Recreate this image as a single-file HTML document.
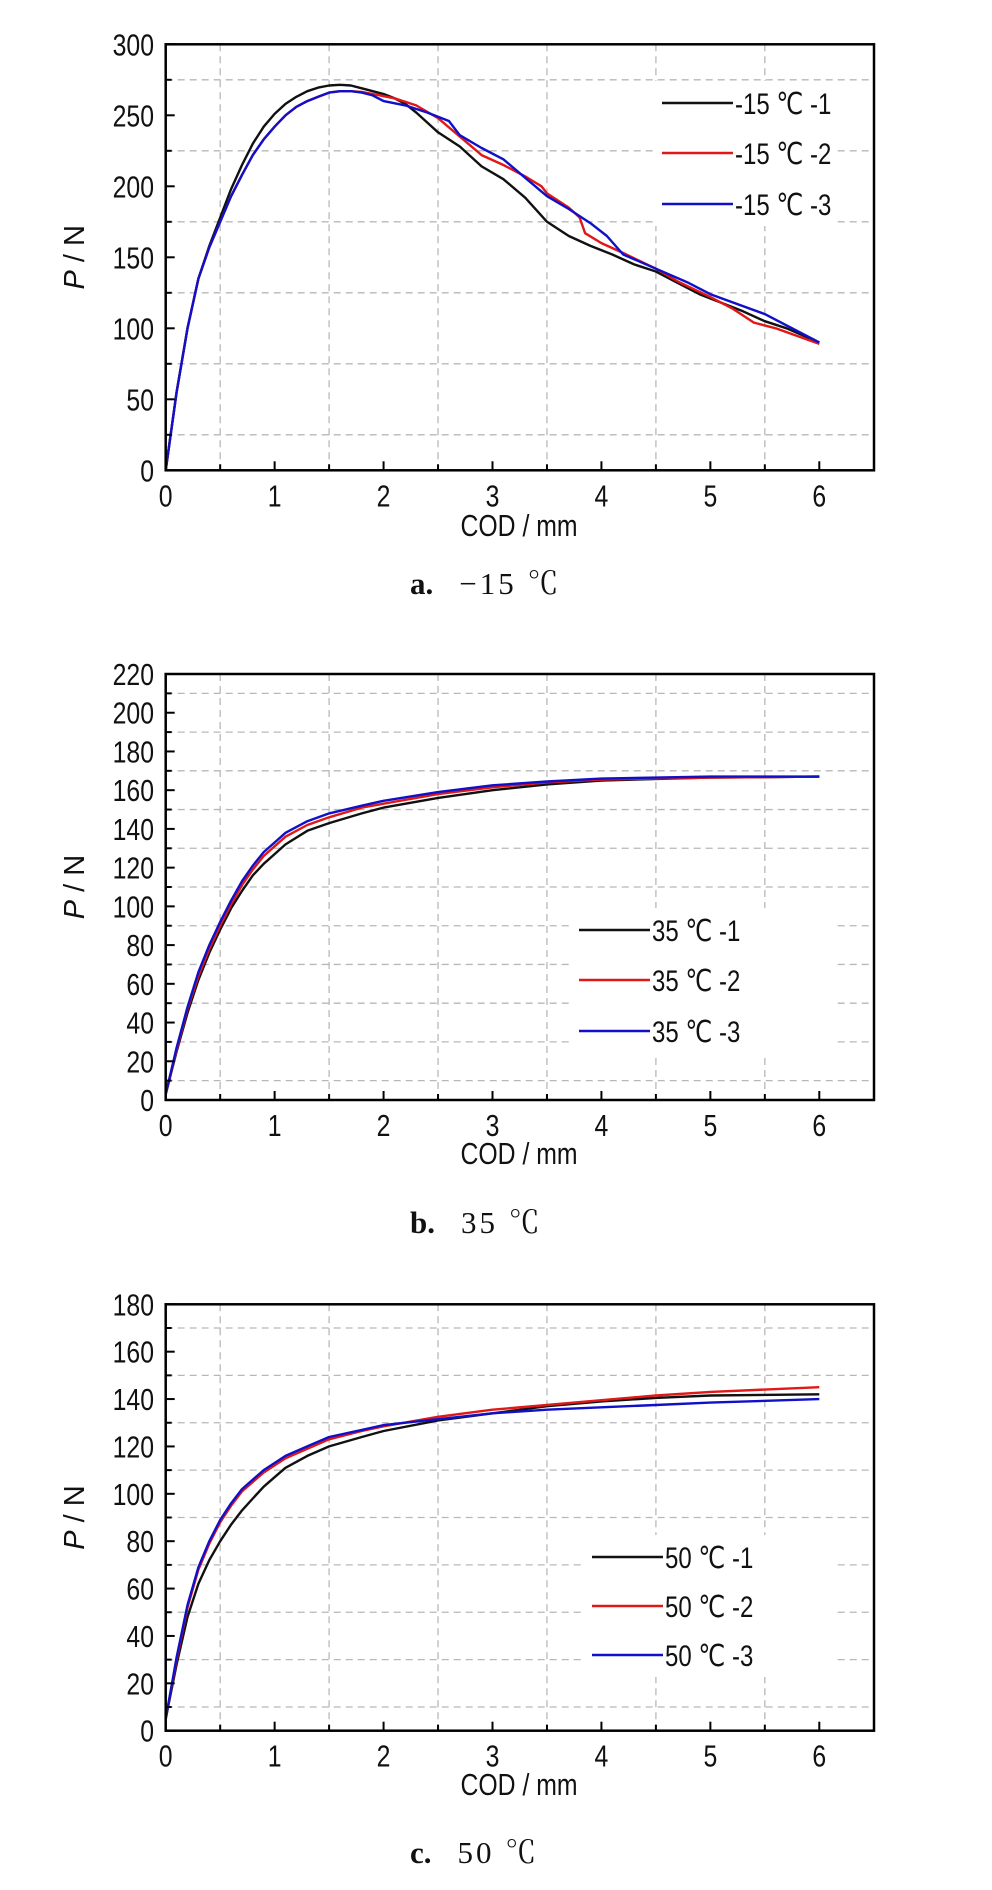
<!DOCTYPE html>
<html><head><meta charset="utf-8">
<style>
html,body{margin:0;padding:0;background:#fff;}
svg{display:block;}
text{font-family:"Liberation Sans",sans-serif;fill:#111;}
.cap{font-family:"Liberation Serif","Noto Serif CJK SC",serif;}
</style></head>
<body>
<svg id="fig" width="992" height="1890" viewBox="0 0 992 1890" xmlns="http://www.w3.org/2000/svg"></svg>
<script>
// ---- data ----
const xTicks = [0,1,2,3,4,5,6];
// Panel a (-15 C)
const aYTicks = [0,50,100,150,200,250,300];
const aLabels = ["-15  ℃ -1","-15  ℃ -2","-15  ℃ -3"];
const aX1 = [0,0.1,0.2,0.3,0.4,0.5,0.6,0.7,0.8,0.9,1.0,1.1,1.2,1.3,1.4,1.5,1.6,1.7,1.8,1.9,2.0,2.1,2.2,2.3,2.5,2.7,2.9,3.1,3.3,3.5,3.7,3.9,4.1,4.3,4.5,4.7,4.9,5.1,5.3,5.5,5.7,6];
const aY1 = [0,55,100,135,158,178,198,215,230,242,251,258,263,267,269.5,271,271.5,271,269,267,265,262,258,252,238,228,214,205,192,175,165,158,152,145,140,132,124,118,112,105,100,90];
const aX2 = [0,0.1,0.2,0.3,0.4,0.5,0.6,0.7,0.8,0.9,1.0,1.1,1.2,1.3,1.4,1.5,1.6,1.7,1.8,1.9,2.1,2.3,2.5,2.7,2.9,3.1,3.3,3.45,3.5,3.7,3.8,3.85,4.0,4.2,4.5,4.7,5,5.2,5.4,5.6,6];
const aY2 = [0,55,100,135,157,175,193,208,222,233,242,250,256,260,263,266,267,267,266.5,265,262,257,248,235,222,215,207,200,195,185,178,167,160,153,142,133,122,114,104,100,89];
const aX3 = [0,0.1,0.2,0.3,0.4,0.5,0.6,0.7,0.8,0.9,1.0,1.1,1.2,1.3,1.4,1.5,1.6,1.7,1.8,1.9,2.0,2.2,2.4,2.6,2.7,2.9,3.1,3.3,3.5,3.7,3.9,4.05,4.2,4.5,4.8,5,5.5,6];
const aY3 = [0,55,100,135,157,175,193,208,222,233,242,250,256,260,263,266,267,267,266,264,260,257,252,246,236,227,219,206,193,184,174,165,152,142,132,124,110,90];
// Panel b (35 C)
const bYTicks = [0,20,40,60,80,100,120,140,160,180,200,220];
const bLabels = ["35  ℃ -1","35  ℃ -2","35  ℃ -3"];
const bX = [0,0.1,0.2,0.3,0.4,0.5,0.6,0.7,0.8,0.9,1.0,1.1,1.3,1.5,1.8,2,2.5,3,3.5,4,5,6];
const bY1 = [3,25,45,62,76,88,99,108,116,122,127,132,139,143,148,151,156,160,163,165,166.5,167];
const bY2 = [3,26,47,64,78,90,101,111,119,126,131,136,142,146,151,153,158,161.5,164,165.5,166.5,167];
const bY3 = [3,27,48,66,80,92,103,113,121,128,133,138,144,148,152,154.5,159,162.5,164.5,166,167,167];
// Panel c (50 C)
const cYTicks = [0,20,40,60,80,100,120,140,160,180];
const cLabels = ["50  ℃ -1","50  ℃ -2","50  ℃ -3"];
const cX = [0,0.1,0.2,0.3,0.4,0.5,0.6,0.7,0.8,0.9,1.0,1.1,1.3,1.5,1.8,2,2.5,3,3.5,4,4.5,5,6];
const cY1 = [5,28,48,62,72,80,87,93,98,103,107,111,116,120,124,126.5,131,134,137,139,140.5,141.5,142];
const cY2 = [5,30,52,68,79,88,95,101,105,109,112,115,119,123,126.5,128.5,132.5,135.5,137.5,139.5,141.5,143,145];
const cY3 = [5,31,53,69,80,89,96,102,106,110,113,116,120,124,127,129,131.5,134,135.5,136.5,137.5,138.5,140];

const NS="http://www.w3.org/2000/svg";
const svg=document.getElementById('fig');
function el(tag,attrs,parent){const e=document.createElementNS(NS,tag);for(const k in attrs)e.setAttribute(k,attrs[k]);(parent||svg).appendChild(e);return e;}
function ntext(x,y,size,anchor,parent,rot){
  const tr='translate('+x+','+y+')'+(rot?' rotate(-90)':'')+' scale(0.8,1)';
  return el('text',{x:0,y:0,'font-size':size,'text-anchor':anchor,transform:tr},parent);
}
const COLORS=["#111111","#e01818","#1010c8"];

function panel(cfg){
  const g=el('g',{});
  
  
  const L=165.7,R=874,T=cfg.top,B=cfg.bottom;
  const sx=v=>L+v*(819.3-L)/6;
  const sy=v=>B-(v/cfg.ymax)*(B-T);
  const step=cfg.yTicks[1]-cfg.yTicks[0];
  for(let v=step/2; v<cfg.ymax; v+=step){
    const gl=el('line',{x1:L,x2:R,y1:sy(v),y2:sy(v),stroke:'#b8b8b8','stroke-width':1.3,'stroke-dasharray':'7,5'},g);
    
    
  }
  for(let v=0.5; v<6.5; v+=1){
    const gl=el('line',{x1:sx(v),x2:sx(v),y1:T,y2:B,stroke:'#b8b8b8','stroke-width':1.3,'stroke-dasharray':'7,5'},g);
    
    
  }
  const lb=el('rect',{x:cfg.leg.x-8,y:cfg.leg.y[0]-22,width:R-cfg.leg.x-30,height:cfg.leg.y[2]-cfg.leg.y[0]+44,fill:'#fff'},g);
  
  
  cfg.series.forEach((s,i)=>{
    const d=s.x.map((xv,j)=>(j?'L':'M')+sx(xv).toFixed(1)+','+sy(s.y[j]).toFixed(1)).join(' ');
    const p=el('path',{d:d,fill:'none',stroke:COLORS[i],'stroke-width':2.4,'stroke-linejoin':'round'},g);
    
    
  });
  cfg.labels.forEach((lab,i)=>{
    const y=cfg.leg.y[i];
    const ln=el('line',{x1:cfg.leg.x,x2:cfg.leg.x+71,y1:y,y2:y,stroke:COLORS[i],'stroke-width':2.4},g);
    
    
    const t=ntext(cfg.leg.x+73,y+11,30,'start',g);
    t.textContent=lab;
    
    
  });
  const fr=el('rect',{x:L,y:T,width:R-L,height:B-T,fill:'none',stroke:'#000','stroke-width':2.5},g);
  
  
  xTicks.forEach(v=>{
    el('line',{x1:sx(v),x2:sx(v),y1:B,y2:B-9,stroke:'#000','stroke-width':2},g);
    const t=ntext(sx(v),B+36,31,'middle',g);
    t.textContent=v;
    
    
  });
  for(let v=0.5;v<6;v+=1) el('line',{x1:sx(v),x2:sx(v),y1:B,y2:B-6,stroke:'#000','stroke-width':2},g);
  cfg.yTicks.forEach(v=>{
    el('line',{x1:L,x2:L+9,y1:sy(v),y2:sy(v),stroke:'#000','stroke-width':2},g);
    const t=ntext(154,sy(v)+11,31,'end',g);
    t.textContent=v;
    
    
  });
  for(let v=step/2; v<cfg.ymax; v+=step) el('line',{x1:L,x2:L+6,y1:sy(v),y2:sy(v),stroke:'#000','stroke-width':2},g);
  const xt=ntext(519,cfg.codY,31,'middle',g);
  xt.textContent='COD / mm';
  
  
  const cy=(T+B)/2;
  const yt=el('text',{x:0,y:0,'font-size':29,'text-anchor':'middle',transform:'translate(84,'+cy+') rotate(-90)'},g);
  yt.innerHTML='<tspan font-style="italic">P</tspan> / N';
  
  
  const cp=el('text',{x:410,y:cfg.capY,'font-size':31,'class':'cap'},g);
  cp.innerHTML='<tspan font-weight="bold">'+cfg.capL+'</tspan><tspan dx="26" letter-spacing="3">'+cfg.capT+'</tspan>';
  
  
}

panel({name:'panel-a-minus15',top:44.3,bottom:470.3,ymax:300,yTicks:aYTicks,labels:aLabels,
  series:[{x:aX1,y:aY1},{x:aX2,y:aY2},{x:aX3,y:aY3}],
  leg:{x:662,y:[103,153,204]},codY:536,capY:594,capL:'a.',capT:'−15 ℃'});
panel({name:'panel-b-35',top:674,bottom:1100,ymax:220,yTicks:bYTicks,labels:bLabels,
  series:[{x:bX,y:bY1},{x:bX,y:bY2},{x:bX,y:bY3}],
  leg:{x:579,y:[930,980,1031]},codY:1164,capY:1233,capL:'b.',capT:'35 ℃'});
panel({name:'panel-c-50',top:1304.3,bottom:1730.7,ymax:180,yTicks:cYTicks,labels:cLabels,
  series:[{x:cX,y:cY1},{x:cX,y:cY2},{x:cX,y:cY3}],
  leg:{x:592,y:[1557,1606,1655]},codY:1795,capY:1863,capL:'c.',capT:'50 ℃'});
</script>
</body></html>
